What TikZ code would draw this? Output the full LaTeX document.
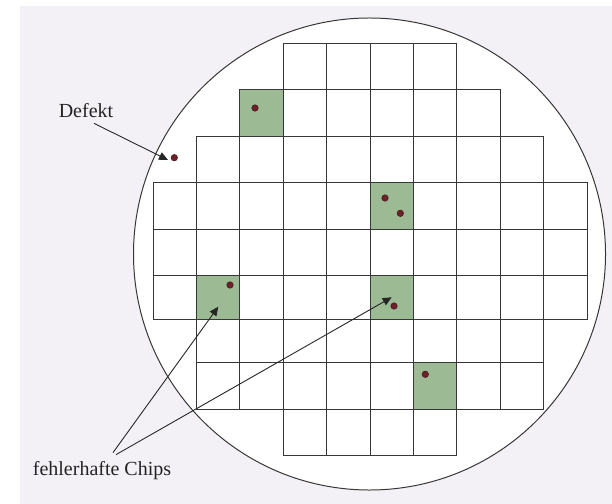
\documentclass[tikz,border=0pt]{standalone}
\usepackage{fontspec}
\setmainfont{Liberation Serif}
\usepackage{tikz}
\usetikzlibrary{arrows.meta, positioning}
\definecolor{mybg}{RGB}{244,241,246}
\definecolor{mygreen}{RGB}{156,186,148}
\definecolor{myline}{RGB}{55,55,55}
\definecolor{mydot}{RGB}{112,32,42}
\definecolor{mydotline}{RGB}{60,20,25}
\definecolor{mytext}{RGB}{35,35,35}
\tikzset{
  cell/.style={draw=myline, line width=1pt},
  badcell/.style={fill=mygreen},
  defect/.style={circle, fill=mydot, draw=mydotline, line width=0.5pt,
    minimum size=6.5bp, inner sep=0pt},
  label/.style={inner sep=0pt, text=mytext,
    font=\fontsize{20bp}{24bp}\selectfont},
  arrow/.style={-{Triangle[length=9bp,width=8bp]}, line width=0.9pt, color=black!85}
}
\begin{document}
\begin{tikzpicture}[x=1bp, y=-1bp]
  \useasboundingbox (0,0) rectangle (612,504);
  \fill[mybg] (20,6) rectangle (612,504);

  % wafer
  \draw[fill=white, draw=myline, line width=1pt] (369.5,254) circle[radius=236bp];

  % faulty chips
  \foreach \x/\top/\bot in {2/90/136, 5/182.5/229, 1/275.5/319, 5/275.5/319, 6/362.5/409}
    \fill[badcell] ({153+43.4*\x},\top) rectangle ({153+43.4*(\x+1)},\bot);

  % chip grid, row by row
  \foreach \top/\bot/\a/\b in {44/90/3/6, 90/136/2/7, 136/182.5/1/8, 182.5/229/0/9,
      229/275.5/0/9, 275.5/319/0/9, 319/362.5/1/8, 362.5/409/1/8, 409/455/3/6}
    \foreach \c in {\a,...,\b}
      \draw[cell] ({153+43.4*\c},\top) rectangle ({153+43.4*(\c+1)},\bot);

  % defects
  \node[defect] (d0) at (174.3,157.7) {};
  \node[defect] (d1) at (255,108) {};
  \node[defect] (d2) at (385,198) {};
  \node[defect] (d3) at (400.3,213.3) {};
  \node[defect] (d4) at (230,285) {};
  \node[defect] (d5) at (394,306) {};
  \node[defect] (d6) at (425.3,374.3) {};

  \node[label] (defekt) at (86,110.5) {Defekt};
  \node[label] (chips) at (102,471) {fehlerhafte Chips};

  \coordinate (deftip) at (168,160);
  \coordinate (tipa) at (218.3,306.7);
  \coordinate (tipb) at (391.7,297.3);

  \draw[arrow] ([xshift=8bp,yshift=-5.5bp]defekt.south) -- (deftip);
  \draw[arrow] ([xshift=11bp,yshift=9bp]chips.north) -- (tipa);
  \draw[arrow] ([xshift=14bp,yshift=7bp]chips.north) -- (tipb);

\end{tikzpicture}
\end{document}
